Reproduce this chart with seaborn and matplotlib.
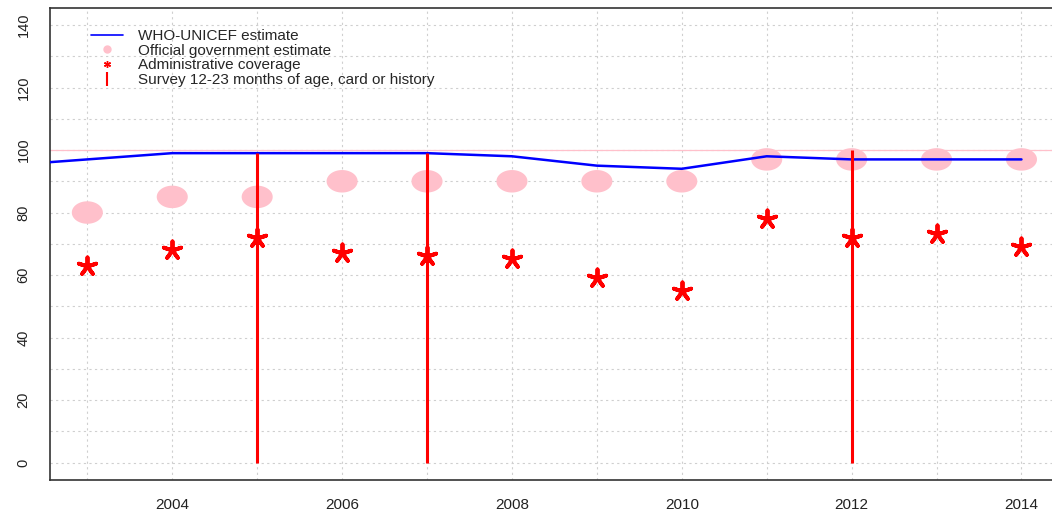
import numpy as np
import pandas as pd
import matplotlib
matplotlib.use("Agg")
import matplotlib.pyplot as plt
from matplotlib.lines import Line2D
from matplotlib.path import Path
import seaborn as sns

# WHO-UNICEF estimate (2002 point sits just outside the visible range)
who_years = [2002, 2003, 2004, 2005, 2006, 2007, 2008, 2009, 2010, 2011, 2012, 2013, 2014]
who_values = [95, 97, 99, 99, 99, 99, 98, 95, 94, 98, 97, 97, 97]

# official government estimate
gov_years = [2003, 2004, 2005, 2006, 2007, 2008, 2009, 2010, 2011, 2012, 2013, 2014]
gov_values = [80, 85, 85, 90, 90, 90, 90, 90, 97, 97, 97, 97]

# administrative coverage
admin_years = [2003, 2004, 2005, 2006, 2007, 2008, 2009, 2010, 2011, 2012, 2013, 2014]
admin_values = [63, 68, 72, 67, 66, 65, 59, 55, 78, 72, 73, 69]

# survey 12-23 months, card or history
survey_years = [2005, 2007, 2012]
survey_values = [99, 99, 100]

legend_labels = ["WHO-UNICEF estimate", "Official government estimate",
                 "Administrative coverage", "Survey 12-23 months of age, card or history"]

x_ticks = [2004, 2006, 2008, 2010, 2012, 2014]
y_ticks = [0, 20, 40, 60, 80, 100, 120, 140]

sns.set_style("white")
plt.rcParams['font.family'] = ['Liberation Sans', 'DejaVu Sans']

who = pd.DataFrame({"year": who_years, "value": who_values})
gov = pd.DataFrame({"year": gov_years, "value": gov_values})
admin = pd.DataFrame({"year": admin_years, "value": admin_values})

fig = plt.figure(figsize=(10.52, 5.13), dpi=100)
ax = fig.add_axes([0.0475, 0.0643, 0.959, 0.921])

# stretched ellipse marker like the R device output
t = np.linspace(0, 2 * np.pi, 60)
ellipse = Path(np.column_stack([1.38 * np.cos(t), np.sin(t)]))

ax.axhline(100, color="pink", lw=0.9, zorder=1)
sns.scatterplot(data=gov, x="year", y="value", marker=ellipse, s=500,
                color="pink", edgecolor="none", ax=ax, zorder=2)
sns.lineplot(data=who, x="year", y="value", color="blue", lw=1.8, ax=ax, zorder=3)
ax.vlines(survey_years, 0, survey_values, color="red", lw=2.2, zorder=4)
sns.scatterplot(data=admin, x="year", y="value", marker=(5, 2, 0), s=170,
                color="red", edgecolor="red", linewidth=2.8, ax=ax, zorder=5)

ax.set_xlim(2002.56, 2014.44)
ax.set_ylim(-5.6, 145.6)
ax.set_xticks(x_ticks)
ax.set_yticks(y_ticks)
ax.set_xticks(list(range(2003, 2015)), minor=True)
ax.set_yticks(list(range(0, 141, 10)), minor=True)
ax.grid(which="both", color="#cfcfcf", linestyle=(0, (2, 3)), lw=0.8)
ax.set_axisbelow(True)
ax.tick_params(axis="x", which="major", length=5, width=1.1, pad=8, labelsize=11,
               color="#333333", labelcolor="#222222")
ax.tick_params(axis="y", which="major", length=8, width=1.1, pad=6, labelsize=10.5,
               color="#333333", labelcolor="#222222")
ax.tick_params(which="minor", length=0)
for lab in ax.get_yticklabels():
    lab.set_rotation(90)
    lab.set_va("center")
for sp in ax.spines.values():
    sp.set_color("#333333")
    sp.set_linewidth(1.2)
ax.spines["right"].set_visible(False)
ax.set_xlabel("")
ax.set_ylabel("")

handles = [
    Line2D([], [], color="blue", lw=1.2),
    Line2D([], [], color="pink", marker="o", ms=5, lw=0),
    Line2D([], [], color="red", marker=(6, 2, 0), ms=5, lw=0, mew=1),
    Line2D([], [], color="red", marker="|", ms=10, lw=0, mew=1.5),
]
ax.legend(handles, legend_labels, loc="upper left", bbox_to_anchor=(0.03, 0.977),
          frameon=False, fontsize=11, handlelength=2.1, handletextpad=1.0,
          labelspacing=0.04, borderpad=0.2)

fig.savefig("out.png", dpi=100)
